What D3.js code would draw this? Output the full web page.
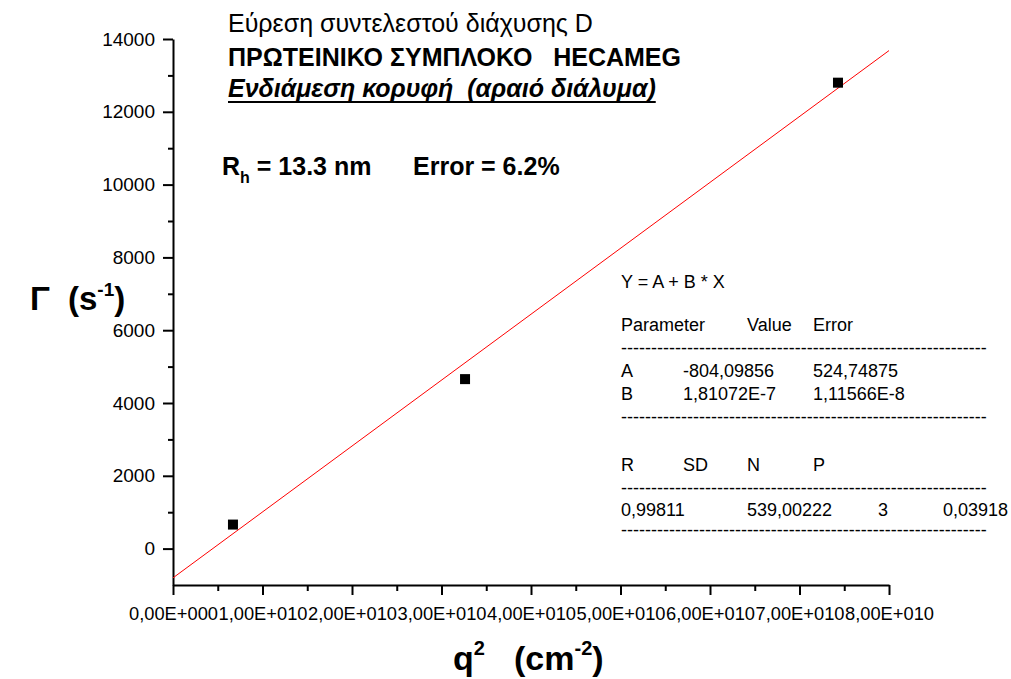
<!DOCTYPE html>
<html>
<head>
<meta charset="utf-8">
<script src="https://cdn.jsdelivr.net/npm/d3@7"></script>
<style>
  body { margin: 0; background: #fff; }
  text { font-family: "Liberation Sans", Arial, sans-serif; fill: #000; white-space: pre; }
</style>
</head>
<body>
<svg id="chart" width="1011" height="679"></svg>
<script>
// Measured points: scattering vector squared (cm^-2) vs decay rate Γ (s^-1)
const q2Values = [6.70e9, 3.263e10, 7.43e10];
const gammaValues = [660, 4656, 12800];

// Linear fit Y = A + B * X
const fitA = -804.09856;
const fitB = 1.81072e-7;

const xDomain = [0, 8e10];
const yDomain = [-1000, 14000];
const xMajorTicks = [0, 1e10, 2e10, 3e10, 4e10, 5e10, 6e10, 7e10, 8e10];
const xMinorTicks = [0.5e10, 1.5e10, 2.5e10, 3.5e10, 4.5e10, 5.5e10, 6.5e10, 7.5e10];
const yMajorTicks = [0, 2000, 4000, 6000, 8000, 10000, 12000, 14000];
const yMinorTicks = [1000, 3000, 5000, 7000, 9000, 11000, 13000];

const titleLines = [
  "Εύρεση συντελεστού διάχυσης D",
  "ΠΡΩΤΕΙΝΙΚΟ ΣΥΜΠΛΟΚΟ   HECAMEG",
  "Ενδιάμεση κορυφή  (αραιό διάλυμα)"
];

const fitEquation = "Y = A + B * X";
const paramHeader = ["Parameter", "Value", "Error"];
const paramRows = [
  ["A", "-804,09856", "524,74875"],
  ["B", "1,81072E-7", "1,11566E-8"]
];
const statHeader = ["R", "SD", "N", "P"];
const statRow = ["0,99811", "539,00222", "3", "0,03918"];

const svg = d3.select("#chart");
svg.append("rect").attr("width", 1011).attr("height", 679).attr("fill", "#fff");

const x = d3.scaleLinear().domain(xDomain).range([173, 889]);
const y = d3.scaleLinear().domain(yDomain).range([585, 39]);

// Origin-style scientific labels: 1,00E+010
function sciLabel(v) {
  if (v === 0) return "0,00E+000";
  const e = Math.floor(Math.log10(v));
  const m = v / Math.pow(10, e);
  return m.toFixed(2).replace(".", ",") + "E+" + String(e).padStart(3, "0");
}

// Axes
const xAxis = svg.append("g").attr("transform", `translate(0,${y(yDomain[0])})`)
  .call(d3.axisBottom(x).tickValues(xMajorTicks).tickFormat(sciLabel)
    .tickSize(10).tickSizeOuter(0).tickPadding(12));
xAxis.selectAll("text").style("font-size", "18.3px");

svg.append("g").attr("transform", `translate(0,${y(yDomain[0])})`)
  .call(d3.axisBottom(x).tickValues(xMinorTicks).tickFormat("")
    .tickSize(6).tickSizeOuter(0))
  .select(".domain").remove();

const yAxis = svg.append("g").attr("transform", `translate(${x(0)},0)`)
  .call(d3.axisLeft(y).tickValues(yMajorTicks).tickFormat(d3.format("d"))
    .tickSize(10).tickSizeOuter(0).tickPadding(8));
yAxis.selectAll("text").style("font-size", "19px");

svg.append("g").attr("transform", `translate(${x(0)},0)`)
  .call(d3.axisLeft(y).tickValues(yMinorTicks).tickFormat("")
    .tickSize(5).tickSizeOuter(0))
  .select(".domain").remove();

svg.selectAll(".domain").attr("stroke", "#000").attr("stroke-width", 2);
svg.selectAll(".tick line").attr("stroke", "#000").attr("stroke-width", 2);

// Fit line across the x range
svg.append("line")
  .attr("x1", x(xDomain[0])).attr("y1", y(fitA + fitB * xDomain[0]))
  .attr("x2", x(xDomain[1])).attr("y2", y(fitA + fitB * xDomain[1]))
  .attr("stroke", "#ff0000").attr("stroke-width", 1);

// Data markers
svg.append("g").selectAll("rect")
  .data(q2Values.map((v, i) => [v, gammaValues[i]]))
  .join("rect")
  .attr("x", d => x(d[0]) - 5).attr("y", d => y(d[1]) - 5)
  .attr("width", 10).attr("height", 10).attr("fill", "#000");

// Heading
const tx = 228;
svg.append("text").attr("x", tx).attr("y", 32).style("font-size", "25px").text(titleLines[0]);
svg.append("text").attr("x", tx).attr("y", 66).style("font-size", "25px").style("font-weight", "bold").text(titleLines[1]);
const sub = svg.append("text").attr("x", tx).attr("y", 97).style("font-size", "25px")
  .style("font-weight", "bold").style("font-style", "italic").text(titleLines[2]);
const subW = sub.node().getComputedTextLength();
svg.append("rect").attr("x", tx).attr("y", 101).attr("width", subW).attr("height", 2).attr("fill", "#000");

// Hydrodynamic radius note
const rh = svg.append("text").attr("x", 222).attr("y", 175).style("font-size", "25px").style("font-weight", "bold");
rh.append("tspan").text("R");
rh.append("tspan").attr("dy", 8).style("font-size", "16px").text("h");
rh.append("tspan").attr("dy", -8).text(" = 13.3 nm");
svg.append("text").attr("x", 413).attr("y", 175).style("font-size", "25px").style("font-weight", "bold").text("Error = 6.2%");

// Axis titles
const yt = svg.append("text").attr("y", 310).style("font-size", "33px").style("font-weight", "bold");
yt.append("tspan").attr("x", 30).text("Γ");
yt.append("tspan").attr("x", 68).text("(s");
yt.append("tspan").attr("dy", -14).style("font-size", "19px").text("-1");
yt.append("tspan").attr("dy", 14).text(")");

const xt = svg.append("text").attr("y", 670).style("font-size", "34px").style("font-weight", "bold");
xt.append("tspan").attr("x", 453).text("q");
xt.append("tspan").attr("dy", -15).style("font-size", "20px").text("2");
xt.append("tspan").attr("x", 514).attr("dy", 15).text("(cm");
xt.append("tspan").attr("dy", -15).style("font-size", "20px").text("-2");
xt.append("tspan").attr("dy", 15).text(")");

// Fit report
const tbl = svg.append("g").style("font-size", "18px");
const cols = [621, 683, 747, 813];
const dashes = "-".repeat(61);
tbl.append("text").attr("x", cols[0]).attr("y", 288).text(fitEquation);
tbl.append("text").attr("x", cols[0]).attr("y", 331).text(paramHeader[0]);
tbl.append("text").attr("x", cols[2]).attr("y", 331).text(paramHeader[1]);
tbl.append("text").attr("x", cols[3]).attr("y", 331).text(paramHeader[2]);
tbl.append("text").attr("x", cols[0]).attr("y", 354).text(dashes);
paramRows.forEach((r, i) => {
  const yy = 377 + i * 23;
  tbl.append("text").attr("x", cols[0]).attr("y", yy).text(r[0]);
  tbl.append("text").attr("x", cols[1]).attr("y", yy).text(r[1]);
  tbl.append("text").attr("x", cols[3]).attr("y", yy).text(r[2]);
});
tbl.append("text").attr("x", cols[0]).attr("y", 423).text(dashes);
statHeader.forEach((h, i) => {
  tbl.append("text").attr("x", cols[i]).attr("y", 471).text(h);
});
tbl.append("text").attr("x", cols[0]).attr("y", 494).text(dashes);
const statX = [621, 747, 878, 943];
statRow.forEach((v, i) => {
  tbl.append("text").attr("x", statX[i]).attr("y", 516).text(v);
});
tbl.append("text").attr("x", cols[0]).attr("y", 536).text(dashes);
</script>
</body>
</html>
